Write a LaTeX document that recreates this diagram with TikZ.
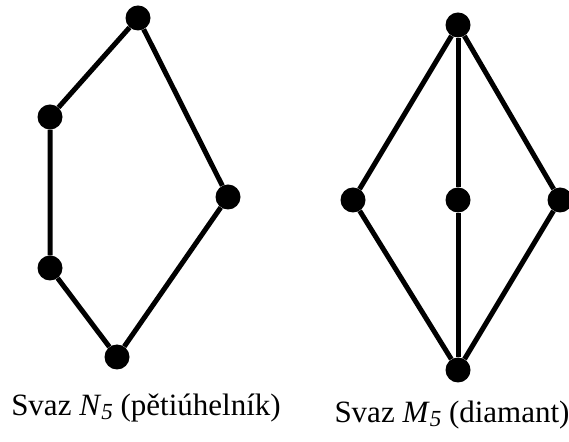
\documentclass[tikz,border=0pt]{standalone}
\usepackage{fontspec}
\setmainfont{Liberation Serif}
\usepackage{tikz}

\newcommand{\lsub}[1]{\raisebox{-0.25ex}{\fontsize{23}{23}\selectfont\textit{#1}}}

\begin{document}
\begin{tikzpicture}[x=1pt, y=1pt,
  elem/.style={circle, fill=black, inner sep=0pt, minimum size=25pt},
  edge/.style={line width=5pt},
  caption/.style={font=\fontsize{31}{36}\selectfont, inner sep=0pt}]
\useasboundingbox (0,0) rectangle (569,441);
% N5
\node[elem] (n1) at (138,423) {};
\node[elem] (na) at (50,324) {};
\node[elem] (nc) at (228,244) {};
\node[elem] (nb) at (50,173) {};
\node[elem] (n0) at (117,84) {};
\draw[edge] (n0) -- (nb) -- (na) -- (n1) -- (nc) -- (n0);
% M5
\node[elem] (m1) at (458,416) {};
\node[elem] (ma) at (353,241) {};
\node[elem] (mb) at (458,241) {};
\node[elem] (mc) at (560,241) {};
\node[elem] (m0) at (458,71) {};
\draw[edge] (m0) -- (ma) -- (m1);
\draw[edge] (m0) -- (mb) -- (m1);
\draw[edge] (m0) -- (mc) -- (m1);
% captions
\node[caption] (capN) at (146,33) {Svaz \textit{N}\lsub{5} (pětiúhelník)};
\node[caption] (capM) at (452,26) {Svaz \textit{M}\lsub{5} (diamant)};
\end{tikzpicture}
\end{document}
